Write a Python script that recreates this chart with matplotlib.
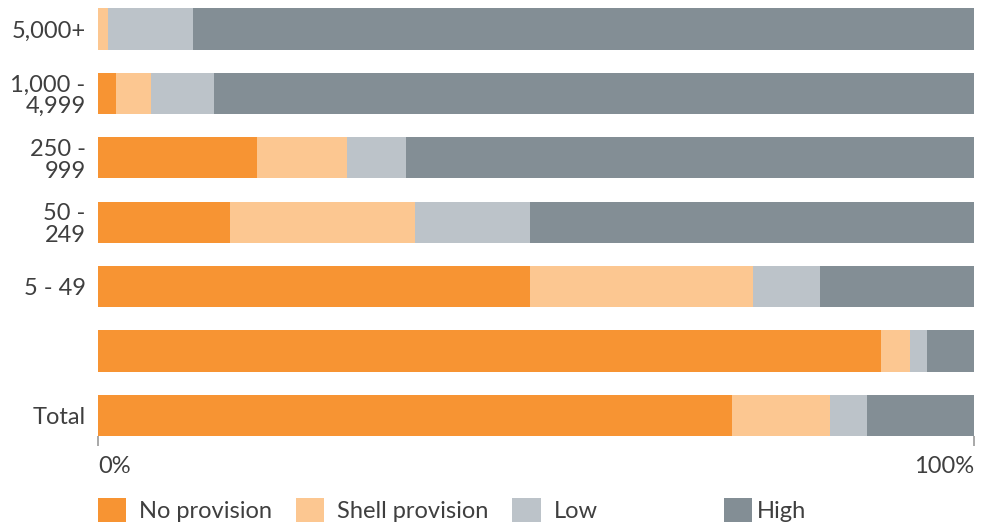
import numpy as np
import matplotlib.pyplot as plt
from matplotlib.patches import Patch

plt.rcParams['font.family'] = ['Lato', 'DejaVu Sans']

categorias = ["5,000+", "1,000 -\n4,999", "250 -\n999", "50 -\n249", "5 - 49", "", "Total"]
sem_provisao = [0.0, 2.1, 18.1, 15.1, 49.3, 89.4, 72.4]
shell = [1.1, 4.0, 10.3, 21.1, 25.5, 3.3, 11.1]
baixo = [9.8, 7.1, 6.8, 13.1, 7.6, 1.9, 4.3]
alto = [89.1, 86.8, 64.8, 50.7, 17.6, 5.4, 12.2]

series = ["No provision", "Shell provision", "Low", "High"]
cores = ["#F79433", "#FCC791", "#BCC3C9", "#838E95"]
cor_texto = "#3f3f3f"

fig = plt.figure(figsize=(9.91, 5.26), dpi=100)
ax = fig.add_axes([0.0989, 0.1711, 0.884, 0.8129])

ind = np.arange(len(categorias))
altura = 0.64
esquerda = np.zeros(len(categorias))
for valores, cor, nome in zip([sem_provisao, shell, baixo, alto], cores, series):
    ax.barh(ind, valores, altura, left=esquerda, color=cor, label=nome, linewidth=0)
    esquerda = esquerda + np.array(valores)

ax.set_xlim(0, 100)
ax.set_ylim(len(categorias) - 1 + altura / 2, -altura / 2)
for s in ax.spines.values():
    s.set_visible(False)

ax.set_yticks(ind)
ax.set_yticklabels(categorias, fontsize=17, color=cor_texto, linespacing=1.05)
ax.tick_params(axis='y', length=0, pad=9)

ax.set_xticks([0, 100])
ax.set_xticklabels(["0%", "100%"], fontsize=17, color=cor_texto)
ax.tick_params(axis='x', length=7.5, width=1.2, color="#9a9a9a", pad=7)
labels = ax.get_xticklabels()
labels[0].set_ha('left')
labels[1].set_ha('right')

handles = [Patch(facecolor=c, edgecolor='none') for c in cores]
leg1 = fig.legend(handles[:3], series[:3], loc='upper left', bbox_to_anchor=(0.099, 0.054),
                  ncol=3, frameon=False, fontsize=17, handlelength=1.2, handleheight=1.2,
                  handletextpad=0.55, columnspacing=1.0, borderpad=0, borderaxespad=0,
                  labelcolor=cor_texto)
leg2 = fig.legend(handles[3:], series[3:], loc='upper left', bbox_to_anchor=(0.7305, 0.054),
                  frameon=False, fontsize=17, handlelength=1.2, handleheight=1.2,
                  handletextpad=0.2, borderpad=0, borderaxespad=0, labelcolor=cor_texto)

fig.savefig("out.png", dpi=100)
